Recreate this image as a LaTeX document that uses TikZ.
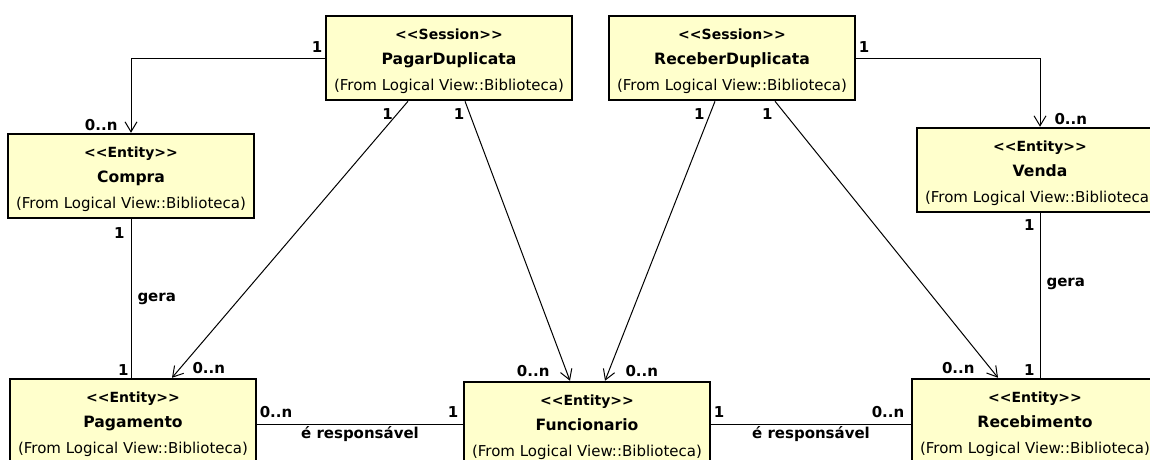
\documentclass[tikz,border=0pt]{standalone}
\usepackage{fontspec}
\setmainfont{DejaVu Sans}[Ligatures=TeXOff]
\usetikzlibrary{arrows.meta}

\definecolor{classfill}{RGB}{255,255,204}

% the three lines of a class box
\newcommand{\umlstereo}[1]{{\rule{0pt}{17pt}\fontsize{14}{16}\selectfont\bfseries #1}}
\newcommand{\umlname}[1]{{\fontsize{15.6}{17}\selectfont\bfseries #1}}
\newcommand{\umlfrom}{{\fontsize{15}{17}\selectfont (From Logical View::Biblioteca)}}

\begin{document}
\begin{tikzpicture}
  [
  x=1pt, y=-1pt,
  >={Straight Barb[length=10pt,width=12pt]},
  classbox/.style={rectangle,align=center,draw=black,line width=2.5pt,fill=classfill,
    minimum width=246pt,minimum height=84pt,inner sep=0pt,
    font=\fontsize{15}{25.5}\selectfont},
  assoc/.style={line width=1pt},
  lbl/.style={font=\fontsize{15}{17}\selectfont\bfseries,inner sep=2pt}
  ]

  \useasboundingbox [fill=white] (0,0) rectangle (1150,459);

  % sessions
  \node (pagar)   [classbox] at (449,58) {
    \umlstereo{<<Session>>} \\ \umlname{PagarDuplicata} \\ \umlfrom
  };
  \node (receber) [classbox] at (732,58) {
    \umlstereo{<<Session>>} \\ \umlname{ReceberDuplicata} \\ \umlfrom
  };

  % entities
  \node (compra)      [classbox] at (131,176) {
    \umlstereo{<<Entity>>} \\ \umlname{Compra} \\ \umlfrom
  };
  \node (venda)       [classbox] at (1040,170) {
    \umlstereo{<<Entity>>} \\ \umlname{Venda} \\ \umlfrom
  };
  \node (pagamento)   [classbox] at (133,421) {
    \umlstereo{<<Entity>>} \\ \umlname{Pagamento} \\ \umlfrom
  };
  \node (funcionario) [classbox] at (587,424) {
    \umlstereo{<<Entity>>} \\ \umlname{Funcionario} \\ \umlfrom
  };
  \node (recebimento) [classbox] at (1035,421) {
    \umlstereo{<<Entity>>} \\ \umlname{Recebimento} \\ \umlfrom
  };

  % top corners
  \draw [assoc,->] (pagar.west) -| (compra.north)
    node [lbl, at start, anchor=south east, yshift=3pt] {1}
    node [lbl, at end, anchor=south east, xshift=-11pt] {0..n};
  \draw [assoc,->] (receber.east) -| (venda.north)
    node [lbl, at start, anchor=south west, yshift=3pt] {1}
    node [lbl, at end, anchor=south west, xshift=12pt] {0..n};

  % gera
  \draw [assoc] (compra.south) -- (compra.south |- pagamento.north)
    node [lbl, at start, anchor=north east, xshift=-4pt, yshift=-6pt] {1}
    node [lbl, midway, anchor=west, xshift=4pt] {gera}
    node [lbl, at end, anchor=south east] {1};
  \draw [assoc] (venda.south) -- (venda.south |- recebimento.north)
    node [lbl, at start, anchor=north east, xshift=-3pt, yshift=-4pt] {1}
    node [lbl, pos=0.43, anchor=west, xshift=4pt] {gera}
    node [lbl, at end, anchor=south east, xshift=-3pt] {1};

  % diagonals
  \draw [assoc,->] ([xshift=-41pt]pagar.south) -- ([xshift=39pt]pagamento.north)
    node [lbl, pos=0.045, anchor=east, xshift=-2pt] {1}
    node [lbl, at end, anchor=south west, xshift=18pt, yshift=2pt] {0..n};
  \draw [assoc,->] ([xshift=16pt]pagar.south) -- ([xshift=-17pt]funcionario.north)
    node [lbl, pos=0.045, anchor=east, xshift=-3pt] {1}
    node [lbl, at end, anchor=south east, xshift=-18pt, yshift=2pt] {0..n};
  \draw [assoc,->] ([xshift=-17pt]receber.south) -- ([xshift=18pt]funcionario.north)
    node [lbl, pos=0.045, anchor=east, xshift=-3pt] {1}
    node [lbl, at end, anchor=south west, xshift=18pt, yshift=2pt] {0..n};
  \draw [assoc,->] ([xshift=43pt]receber.south) -- ([xshift=-37pt]recebimento.north)
    node [lbl, pos=0.045, anchor=east, xshift=-10pt] {1}
    node [lbl, at end, anchor=south east, xshift=-21pt, yshift=2pt] {0..n};

  % responsavel
  \draw [assoc] (funcionario.west -| pagamento.east) -- (funcionario.west)
    node [lbl, at start, anchor=south west, yshift=4pt] {0..n}
    node [lbl, at end, anchor=south east, xshift=-2pt, yshift=4pt] {1}
    node [lbl, midway, anchor=north] {é responsável};
  \draw [assoc] (funcionario.east) -- (funcionario.east -| recebimento.west)
    node [lbl, at start, anchor=south west, yshift=4pt] {1}
    node [lbl, at end, anchor=south east, xshift=-4pt, yshift=4pt] {0..n}
    node [lbl, midway, anchor=north] {é responsável};
\end{tikzpicture}
\end{document}
